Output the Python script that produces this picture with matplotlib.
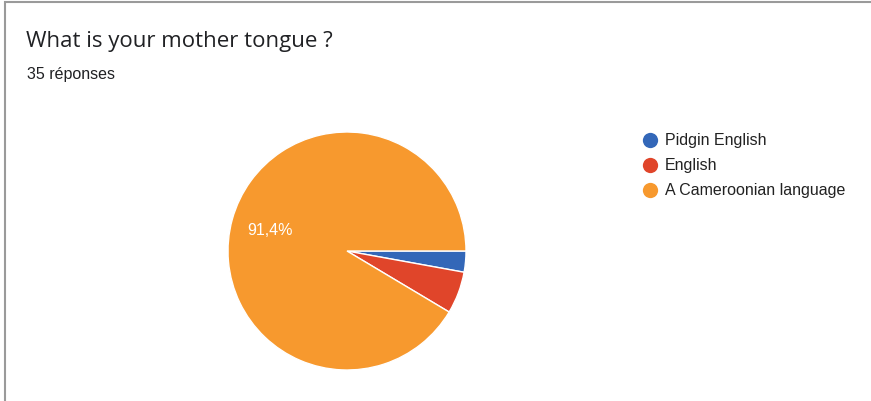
import matplotlib.pyplot as plt

plt.rcParams['font.family'] = ['Liberation Sans', 'DejaVu Sans']

# data
title = "What is your mother tongue ?"
subtitle = "35 réponses"
labels = ["Pidgin English", "English", "A Cameroonian language"]
counts = [1, 2, 32]
colors = ["#3367b8", "#e0452a", "#f7992e"]

W, H = 871, 402
fig = plt.figure(figsize=(W / 100, H / 100), dpi=100)

# overlay in pixel coordinates for frame, text and legend
bg = fig.add_axes([0, 0, 1, 1])
bg.set_xlim(0, W)
bg.set_ylim(H, 0)
bg.axis("off")
bg.plot([4.5, 4.5, W + 5], [H + 5, 2.5, 2.5], color="#9a9a9a", lw=1.5,
        solid_joinstyle="miter")

bg.text(26, 42, title, fontsize=16, family=["Open Sans", "DejaVu Sans"],
        color="#202124", va="center", ha="left")
bg.text(27, 75, subtitle, fontsize=11.5, color="#202124", va="center", ha="left")

# legend
for i, (lab, c) in enumerate(zip(labels, colors)):
    y = 141 + i * 25
    bg.plot(650, y, marker="o", ms=11, color=c, mec="none")
    bg.text(665, y, lab, fontsize=11.5, color="#222222", va="center", ha="left")

# pie
cx, cy, r = 347, 252, 119
ax = fig.add_axes([(cx - r) / W, (H - cy - r) / H, 2 * r / W, 2 * r / H])


def pct(p):
    return f"{p:.1f}%".replace(".", ",") if p > 10 else ""


wedges, texts, autotexts = ax.pie(
    counts, colors=colors, startangle=0, counterclock=False,
    autopct=pct, pctdistance=0.67, radius=1,
    wedgeprops=dict(edgecolor="white", linewidth=1),
    textprops=dict(color="white", fontsize=11.5),
)
ax.set_xlim(-1, 1)
ax.set_ylim(-1, 1)
ax.set_aspect("equal")

fig.savefig("out.png", dpi=100)
